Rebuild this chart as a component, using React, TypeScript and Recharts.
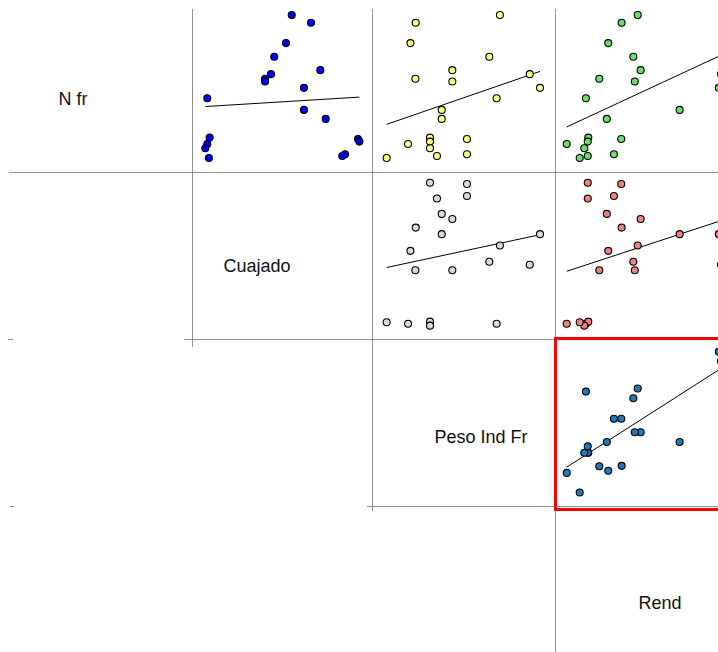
import { ScatterChart, Scatter, XAxis, YAxis, ReferenceLine } from 'recharts';

// variables of the scatter matrix (one value per plot/observation)
const varNames = ['N fr', 'Cuajado', 'Peso Ind Fr', 'Rend'];

const nFr = [46.7, 44.4, 38.3, 34.2, 30.2, 29.0, 27.6, 26.8, 24.9, 21.8, 18.3, 15.6, 10.0, 9.6, 8.8, 8.1, 6.8, 5.0, 4.5, 3.9];
const cuajado = [55.4, 66.1, 52.2, 45.7, 71.3, 43.9, 40.6, 40.6, 62.2, 8.5, 62.2, 74.3, 9.8, 92.2, 93.0, 8.5, 7.4, 85.0, 83.5, 9.4];
const pesoIndFr = [239.8, 147.8, 142.0, 228.2, 187.8, 272.4, 147.4, 187.8, 283.6, 236.2, 176.2, 176.2, 163.4, 203.8, 163.4, 139.4, 163.4, 203.8, 171.0, 116.0];
const rend = [4.52, 3.64, 2.91, 4.28, 4.68, 9.07, 2.42, 4.36, 8.95, 1.69, 6.81, 2.83, 1.82, 3.62, 1.79, 0.64, 1.6, 3.22, 1.79, 1.35];

const columns = [nFr, cuajado, pesoIndFr, rend];
const domains: [number, number][] = [[0, 50], [0, 100], [100, 300], [0, 10]];

// upper triangle cells that have points: [row, col, colour]
const cells: [number, number, string][] = [
  [0, 1, '#0000ff'],
  [0, 2, '#ffff80'],
  [0, 3, '#66e066'],
  [1, 2, '#d9d9d9'],
  [1, 3, '#f08080'],
  [2, 3, '#1f78b8'],
];

const colEdges = [10, 192, 372, 555, 738];
const rowEdges = [4, 171, 338, 506, 674];
const labelPos = [[73, 105], [257, 272], [481, 443], [660, 609]];

const fit = (xs: number[], ys: number[]) => {
  const n = xs.length;
  const mx = xs.reduce((s, v) => s + v, 0) / n;
  const my = ys.reduce((s, v) => s + v, 0) / n;
  let sxy = 0, sxx = 0;
  xs.forEach((x, i) => {
    sxy += (x - mx) * (ys[i] - my);
    sxx += (x - mx) * (x - mx);
  });
  const b = sxy / sxx;
  return { a: my - b * mx, b };
};

const Dot = (p: any) => (
  <circle cx={p.cx} cy={p.cy} r={3.5} fill={p.fill} stroke="#000" strokeWidth={1.1} />
);

const Cell = ({ r, c, color }: { r: number; c: number; color: string }) => {
  const xs = columns[c];
  const ys = columns[r];
  const data = xs.map((x, i) => ({ x, y: ys[i] }));
  const { a, b } = fit(xs, ys);
  const x0 = Math.min(...xs);
  const x1 = Math.max(...xs);
  const w = colEdges[c + 1] - colEdges[c];
  const h = rowEdges[r + 1] - rowEdges[r];
  return (
    <div style={{ position: 'absolute', left: colEdges[c], top: rowEdges[r], width: w, height: h }}>
      <ScatterChart width={w} height={h} margin={{ top: 0, right: 0, bottom: 0, left: 0 }} style={{ overflow: 'visible' }}>
        <XAxis type="number" dataKey="x" domain={domains[c]} hide />
        <YAxis type="number" dataKey="y" domain={domains[r]} hide />
        <ReferenceLine
          segment={[{ x: x0, y: a + b * x0 }, { x: x1, y: a + b * x1 }]}
          stroke="#000"
          strokeWidth={1}
          ifOverflow="visible"
        />
        <Scatter data={data} fill={color} shape={Dot} isAnimationActive={false} />
      </ScatterChart>
    </div>
  );
};

const gray = '#909090';
const hLine = (left: number, top: number, width: number) => (
  <div style={{ position: 'absolute', left, top, width, height: 1, background: gray }} />
);
const vLine = (left: number, top: number, height: number) => (
  <div style={{ position: 'absolute', left, top, width: 1, height, background: gray }} />
);

export default function App() {
  return (
    <div style={{ position: 'absolute', left: 0, top: 0, width: 718, height: 652, overflow: 'hidden', background: '#fff' }}>
      {vLine(192, 9, 338)}
      {vLine(372, 9, 502)}
      {vLine(555, 9, 643)}
      {hLine(9, 172, 709)}
      {hLine(184, 339, 534)}
      {hLine(367, 506, 351)}
      {hLine(8, 339, 5)}
      {hLine(10, 506, 4)}
      {cells.map(([r, c, color]) => (
        <Cell key={`${r}-${c}`} r={r} c={c} color={color} />
      ))}
      <svg width={718} height={652} style={{ position: 'absolute', left: 0, top: 0 }}>
        {varNames.map((name, i) => (
          <text
            key={name}
            x={labelPos[i][0]}
            y={labelPos[i][1]}
            textAnchor="middle"
            fontFamily="'Liberation Sans', Arial, sans-serif"
            fontSize={18}
            fill="#111"
          >
            {name}
          </text>
        ))}
      </svg>
      <div
        style={{
          position: 'absolute',
          left: 554,
          top: 337,
          width: 220,
          height: 174,
          border: '3px solid #ff0000',
          boxSizing: 'border-box',
        }}
      />
    </div>
  );
}
